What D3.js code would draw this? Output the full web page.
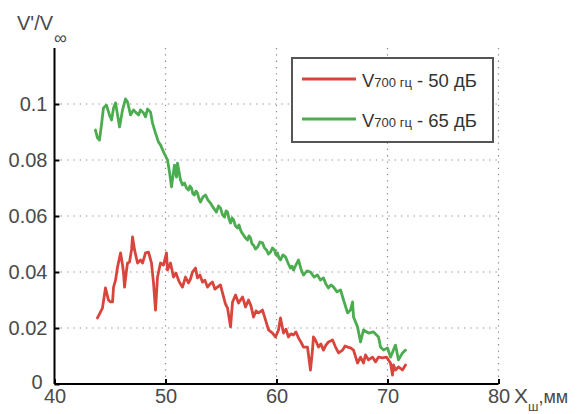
<!DOCTYPE html>
<html>
<head>
<meta charset="utf-8">
<script src="https://cdn.jsdelivr.net/npm/d3@7"></script>
<style>
  html, body { margin: 0; padding: 0; background: #fff; }
  svg { display: block; font-family: "Liberation Sans", Arial, sans-serif; }
</style>
</head>
<body>
<svg id="chart" width="582" height="414"></svg>
<script>
// Distance along the probe, mm
const xTicks = [40, 50, 60, 70, 80];
const yTicks = [0, 0.02, 0.04, 0.06, 0.08, 0.1];
const yTickLabels = ["0", "0.02", "0.04", "0.06", "0.08", "0.1"];

// V700 Hz at 50 dB
const x50 = [43.87,44.14,44.32,44.59,44.86,45.05,45.23,45.32,45.50,45.68,45.95,46.13,46.22,46.31,46.49,46.58,46.76,46.94,47.03,47.21,47.48,47.75,47.93,48.20,48.47,48.74,48.92,49.10,49.28,49.55,49.82,50.09,50.18,50.45,50.72,50.95,51.17,51.35,51.53,51.80,52.07,52.25,52.43,52.70,52.88,53.10,53.33,53.55,53.78,54.00,54.23,54.45,54.68,54.95,55.23,55.40,55.59,55.86,56.04,56.31,56.58,56.94,57.21,57.48,57.70,57.93,58.15,58.38,58.74,59.01,59.28,59.64,59.91,60.18,60.36,60.63,60.85,61.08,61.30,61.53,61.75,61.98,62.20,62.43,62.79,63.06,63.24,63.33,63.51,63.78,64.00,64.23,64.45,64.68,65.05,65.32,65.59,65.95,66.18,66.40,66.67,66.94,67.30,67.57,67.84,68.02,68.29,68.65,68.92,69.19,69.55,69.91,70.27,70.45,70.54,70.72,70.99,71.35,71.62];
const v50 = [0.0236,0.0257,0.0271,0.0343,0.0300,0.0293,0.0293,0.0346,0.0371,0.0418,0.0468,0.0425,0.0396,0.0346,0.0407,0.0432,0.0436,0.0479,0.0525,0.0479,0.0432,0.0443,0.0432,0.0468,0.0471,0.0432,0.0361,0.0264,0.0382,0.0432,0.0425,0.0468,0.0407,0.0432,0.0382,0.0396,0.0371,0.0357,0.0346,0.0382,0.0361,0.0375,0.0400,0.0414,0.0379,0.0389,0.0364,0.0371,0.0346,0.0357,0.0364,0.0339,0.0346,0.0354,0.0311,0.0286,0.0271,0.0204,0.0293,0.0318,0.0289,0.0311,0.0275,0.0300,0.0279,0.0239,0.0261,0.0254,0.0264,0.0229,0.0193,0.0182,0.0168,0.0193,0.0236,0.0182,0.0196,0.0168,0.0179,0.0175,0.0186,0.0164,0.0150,0.0132,0.0132,0.0050,0.0121,0.0168,0.0157,0.0132,0.0143,0.0121,0.0139,0.0150,0.0157,0.0132,0.0111,0.0121,0.0136,0.0132,0.0129,0.0121,0.0075,0.0096,0.0075,0.0104,0.0086,0.0096,0.0079,0.0096,0.0093,0.0096,0.0075,0.0032,0.0068,0.0050,0.0061,0.0050,0.0068];

// V700 Hz at 65 dB
const x65 = [43.69,43.87,44.05,44.23,44.41,44.68,44.95,45.14,45.32,45.50,45.68,45.86,46.13,46.40,46.58,46.85,47.12,47.30,47.57,47.75,48.02,48.20,48.38,48.65,48.83,49.10,49.37,49.55,49.82,50.18,50.36,50.54,50.81,50.99,51.08,51.35,51.53,51.71,51.89,52.07,52.20,52.34,52.47,52.61,52.75,52.88,53.02,53.15,53.38,53.60,53.83,54.05,54.32,54.59,54.77,54.95,55.14,55.32,55.45,55.59,55.72,55.86,56.00,56.13,56.31,56.49,56.62,56.76,56.90,57.03,57.21,57.39,57.52,57.66,57.80,57.93,58.11,58.29,58.51,58.74,58.92,59.10,59.28,59.46,59.64,59.82,59.95,60.09,60.22,60.36,60.58,60.81,61.04,61.26,61.40,61.53,61.75,61.98,62.20,62.43,62.75,63.06,63.38,63.69,63.96,64.23,64.45,64.68,64.91,65.14,65.45,65.77,65.90,66.04,66.40,66.67,66.85,66.94,67.30,67.57,67.84,68.29,68.74,69.19,69.37,69.64,70.00,70.27,70.72,70.99,71.35,71.62];
const v65 = [0.0907,0.0879,0.0871,0.0925,0.0986,0.0996,0.0961,0.0943,0.0986,0.1004,0.0961,0.0918,0.0979,0.1018,0.1007,0.0961,0.0979,0.0971,0.0961,0.0979,0.0968,0.0954,0.0982,0.0971,0.0932,0.0896,0.0864,0.0854,0.0829,0.0800,0.0757,0.0704,0.0782,0.0739,0.0789,0.0729,0.0711,0.0718,0.0700,0.0693,0.0707,0.0700,0.0679,0.0675,0.0689,0.0682,0.0661,0.0650,0.0668,0.0675,0.0657,0.0646,0.0629,0.0614,0.0636,0.0629,0.0604,0.0596,0.0618,0.0614,0.0589,0.0575,0.0593,0.0586,0.0564,0.0557,0.0568,0.0550,0.0539,0.0532,0.0521,0.0514,0.0529,0.0521,0.0500,0.0496,0.0482,0.0489,0.0507,0.0504,0.0486,0.0479,0.0464,0.0471,0.0486,0.0479,0.0461,0.0468,0.0450,0.0443,0.0461,0.0454,0.0432,0.0414,0.0421,0.0407,0.0425,0.0443,0.0411,0.0389,0.0404,0.0400,0.0382,0.0389,0.0371,0.0379,0.0357,0.0343,0.0354,0.0346,0.0329,0.0336,0.0318,0.0300,0.0254,0.0264,0.0293,0.0239,0.0204,0.0150,0.0193,0.0182,0.0186,0.0168,0.0132,0.0121,0.0129,0.0096,0.0139,0.0086,0.0111,0.0121];

const seriesNames = ["50 дБ", "65 дБ"];
const seriesColors = ["#d9453c", "#4bad4f"];

const svg = d3.select("#chart");
const x = d3.scaleLinear().domain([40, 80]).range([54.5, 498.5]);
const y = d3.scaleLinear().domain([0, 0.12]).range([384, 48]);

const textColor = "#4a4a4a";
const gridColor = "#8a8a8a";

// dotted grid
const grid = svg.append("g");
grid.selectAll("line.vx").data(xTicks.slice(1)).join("line")
  .attr("x1", d => x(d)).attr("x2", d => x(d))
  .attr("y1", y(0.12)).attr("y2", y(0))
  .attr("stroke", gridColor).attr("stroke-width", 1.2)
  .attr("stroke-dasharray", "1.3,5");
grid.selectAll("line.hy").data(yTicks.slice(1)).join("line")
  .attr("x1", x(40)).attr("x2", x(80))
  .attr("y1", d => y(d)).attr("y2", d => y(d))
  .attr("stroke", gridColor).attr("stroke-width", 1.2)
  .attr("stroke-dasharray", "1.3,5");

// data lines
const line = d3.line().x(d => x(d[0])).y(d => y(d[1]));
const series = [d3.zip(x50, v50), d3.zip(x65, v65)];
svg.append("g").selectAll("path").data(series).join("path")
  .attr("d", line)
  .attr("fill", "none")
  .attr("stroke", (d, i) => seriesColors[i])
  .attr("stroke-width", 2.8)
  .attr("stroke-linejoin", "round")
  .attr("stroke-linecap", "round");

// axes with inward ticks
const xAxis = d3.axisBottom(x).tickValues(xTicks).tickSize(-5).tickPadding(5)
  .tickFormat(d3.format("d"));
const yAxis = d3.axisLeft(y).tickValues(yTicks).tickSize(-5).tickPadding(7)
  .tickFormat((d, i) => yTickLabels[i]);

function styleAxis(g) {
  g.select(".domain").attr("stroke", "#000").attr("stroke-width", 2);
  g.selectAll(".tick line").attr("stroke", "#000").attr("stroke-width", 2);
  g.selectAll(".tick text").attr("fill", textColor)
    .attr("font-size", 20).attr("font-family", "Liberation Sans, Arial, sans-serif");
}
const gx = svg.append("g").attr("transform", `translate(0,${y(0)})`).call(xAxis);
gx.select(".domain").attr("d", `M${x(40)},0H${x(80)}`);
styleAxis(gx);
const gy = svg.append("g").attr("transform", `translate(${x(40)},0)`).call(yAxis);
gy.select(".domain").attr("d", `M0,${y(0.12)}V${y(0)}`);
styleAxis(gy);
// keep the origin label clear of the "40" below it
gy.selectAll(".tick text").filter(d => d === 0).attr("x", -12).attr("dy", "0.22em");

// axis titles
const yTitle = svg.append("text").attr("x", 17).attr("y", 30)
  .attr("fill", textColor).attr("font-size", 20);
yTitle.append("tspan").text("V'/V");
svg.append("text").attr("x", 54).attr("y", 44).attr("fill", textColor)
  .attr("font-size", 18).text("∞");

const xTitle = svg.append("text").attr("x", 514).attr("y", 403)
  .attr("fill", textColor).attr("font-size", 21);
xTitle.append("tspan").text("X");
xTitle.append("tspan").attr("font-size", 13).attr("dy", 8).text("ш");
xTitle.append("tspan").attr("font-size", 18).attr("dy", -8).text(",мм");

// legend
const legend = svg.append("g");
legend.append("rect").attr("x", 292).attr("y", 58).attr("width", 201).attr("height", 84)
  .attr("fill", "#fff").attr("stroke", "#555").attr("stroke-width", 2);
const rows = legend.selectAll("g.row").data(seriesNames).join("g")
  .attr("transform", (d, i) => `translate(0,${i * 40})`);
rows.append("line").attr("x1", 302).attr("x2", 356).attr("y1", 79).attr("y2", 79)
  .attr("stroke", (d, i) => seriesColors[i]).attr("stroke-width", 3);
const lt = rows.append("text").attr("x", 362).attr("y", 87).attr("fill", "#333")
  .attr("font-size", 18.5);
lt.append("tspan").text("V");
lt.append("tspan").attr("font-size", 13).text("700 гц");
lt.append("tspan").text(d => " - " + d);
</script>
</body>
</html>
